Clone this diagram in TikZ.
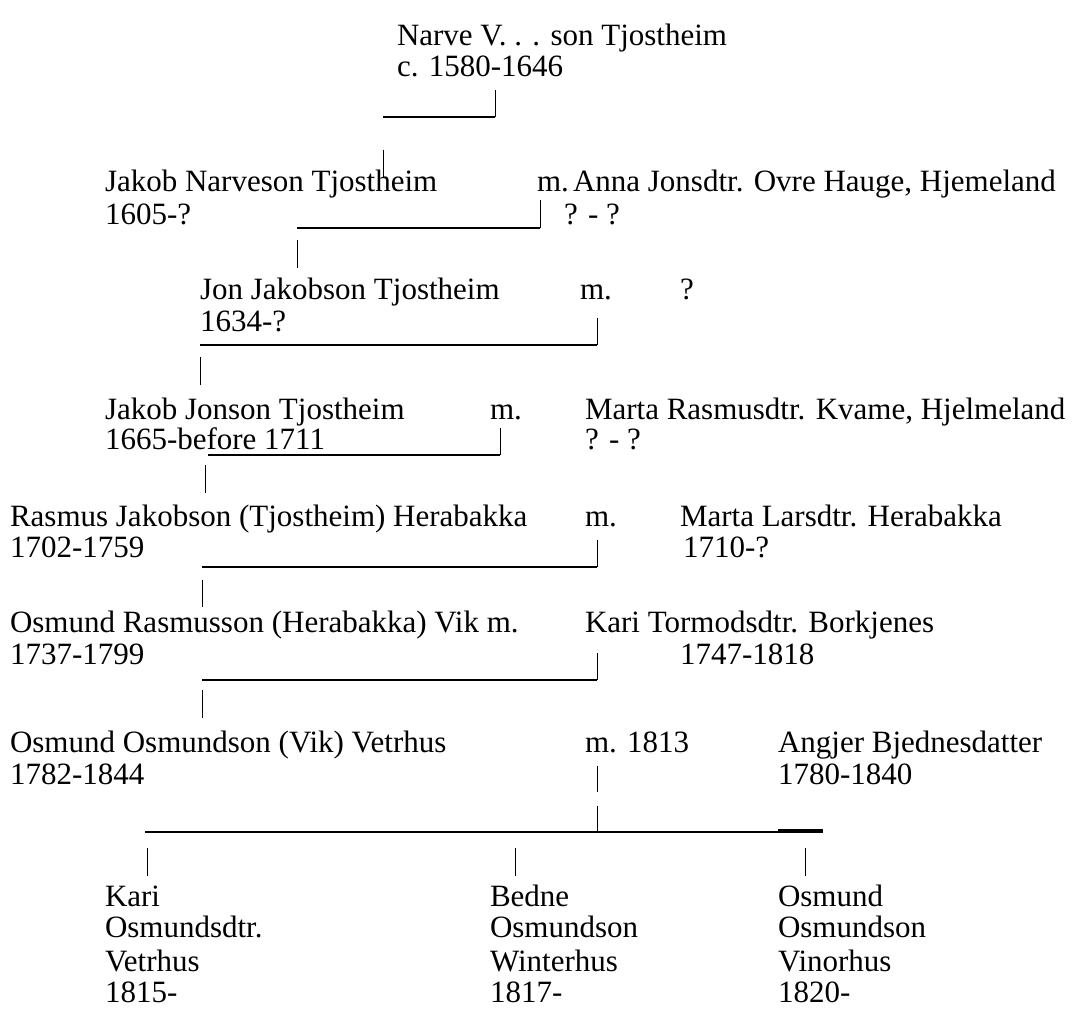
\documentclass[tikz,border=0pt]{standalone}
\usepackage{fontspec}
\setmainfont{Liberation Serif}
\begin{document}
\begin{tikzpicture}[x=1pt,y=-1pt,
  txt/.style={anchor=base west,inner sep=0pt,outer sep=0pt,font=\fontsize{31}{33}\selectfont},
  hline/.style={line width=1.8pt},
  vbar/.style={line width=0.9pt}]
\useasboundingbox (0,0) rectangle (1073,1019);
% generation 1
\node[txt] (narve) at (397,46) {Narve V. . . son Tjostheim};
\node[txt] (narved) at (397,77) {c. 1580-1646};
\coordinate (l1a) at (383,117); \coordinate (l1b) at (495,117);
\coordinate (b1t) at (495,90);
\draw[hline] (l1a) -- (l1b);
\draw[vbar] (b1t) -- (l1b);
\coordinate (b2t) at (383,150); \coordinate (b2b) at (383,177);
\draw[vbar] (b2t) -- (b2b);
% generation 2
\node[txt] (jakobn) at (105,192) {Jakob Narveson Tjostheim};
\node[txt] (m2) at (537,192) {m.};
\node[txt] (anna) at (573,192) {Anna Jonsdtr. Ovre Hauge, Hjemeland};
\node[txt] (jakobnd) at (105,224) {1605-?};
\node[txt] (annad) at (564,224) {? - ?};
\coordinate (l2a) at (297,228); \coordinate (l2b) at (540,228);
\coordinate (b3t) at (540,200);
\draw[hline] (l2a) -- (l2b);
\draw[vbar] (b3t) -- (l2b);
\coordinate (b4t) at (297,240); \coordinate (b4b) at (297,268);
\draw[vbar] (b4t) -- (b4b);
% generation 3
\node[txt] (jon) at (200,299) {Jon Jakobson Tjostheim};
\node[txt] (m3) at (580,299) {m.};
\node[txt] (jonw) at (680,299) {?};
\node[txt] (jond) at (200,331) {1634-?};
\coordinate (l3a) at (200,345); \coordinate (l3b) at (597,345);
\coordinate (b5t) at (597,318);
\draw[hline] (l3a) -- (l3b);
\draw[vbar] (b5t) -- (l3b);
\coordinate (b6t) at (200,357); \coordinate (b6b) at (200,385);
\draw[vbar] (b6t) -- (b6b);
% generation 4
\node[txt] (jakobj) at (105,419) {Jakob Jonson Tjostheim};
\node[txt] (m4) at (490,419) {m.};
\node[txt] (martar) at (585,419) {Marta Rasmusdtr. Kvame, Hjelmeland};
\node[txt] (jakobjd) at (105,449) {1665-before 1711};
\node[txt] (martard) at (585,449) {? - ?};
\coordinate (l4a) at (208,455); \coordinate (l4b) at (500,455);
\coordinate (b7t) at (500,428);
\draw[hline] (l4a) -- (l4b);
\draw[vbar] (b7t) -- (l4b);
\coordinate (b8t) at (205,465); \coordinate (b8b) at (205,493);
\draw[vbar] (b8t) -- (b8b);
% generation 5
\node[txt] (rasmus) at (10,526) {Rasmus Jakobson (Tjostheim) Herabakka};
\node[txt] (m5) at (585,526) {m.};
\node[txt] (martal) at (680,526) {Marta Larsdtr. Herabakka};
\node[txt] (rasmusd) at (10,557) {1702-1759};
\node[txt] (martald) at (683,557) {1710-?};
\coordinate (l5a) at (202,567); \coordinate (l5b) at (597,567);
\coordinate (b9t) at (597,540);
\draw[hline] (l5a) -- (l5b);
\draw[vbar] (b9t) -- (l5b);
\coordinate (b10t) at (202,580); \coordinate (b10b) at (202,607);
\draw[vbar] (b10t) -- (b10b);
% generation 6
\node[txt] (osmr) at (10,632) {Osmund Rasmusson (Herabakka) Vik m.};
\node[txt] (karit) at (585,632) {Kari Tormodsdtr. Borkjenes};
\node[txt] (osmrd) at (10,664) {1737-1799};
\node[txt] (karitd) at (680,664) {1747-1818};
\coordinate (l6a) at (202,680); \coordinate (l6b) at (597,680);
\coordinate (b11t) at (597,653);
\draw[hline] (l6a) -- (l6b);
\draw[vbar] (b11t) -- (l6b);
\coordinate (b12t) at (202,690); \coordinate (b12b) at (202,718);
\draw[vbar] (b12t) -- (b12b);
% generation 7
\node[txt] (osmo) at (10,752) {Osmund Osmundson (Vik) Vetrhus};
\node[txt] (m7) at (585,752) {m. 1813};
\node[txt] (angjer) at (778,752) {Angjer Bjednesdatter};
\node[txt] (osmod) at (10,784) {1782-1844};
\node[txt] (angjerd) at (778,784) {1780-1840};
\coordinate (b13t) at (597,766); \coordinate (b13b) at (597,792);
\draw[vbar] (b13t) -- (b13b);
\coordinate (b14t) at (597,806); \coordinate (l7m) at (597,832);
\draw[vbar] (b14t) -- (l7m);
\coordinate (l7a) at (145,832); \coordinate (l7b) at (823,832);
\draw[hline] (l7a) -- (l7b);
\coordinate (u7a) at (778,830); \coordinate (u7b) at (823,830);
\draw[line width=2.5pt] (u7a) -- (u7b);
\coordinate (c1t) at (147,848); \coordinate (c1b) at (147,876);
\coordinate (c2t) at (515,848); \coordinate (c2b) at (515,876);
\coordinate (c3t) at (805,848); \coordinate (c3b) at (805,876);
\draw[vbar] (c1t) -- (c1b);
\draw[vbar] (c2t) -- (c2b);
\draw[vbar] (c3t) -- (c3b);
% children
\node[txt] (k1) at (105,906) {Kari};
\node[txt] (k2) at (105,937) {Osmundsdtr.};
\node[txt] (k3) at (105,971) {Vetrhus};
\node[txt] (k4) at (105,1002) {1815-};
\node[txt] (bd1) at (490,906) {Bedne};
\node[txt] (bd2) at (490,937) {Osmundson};
\node[txt] (bd3) at (490,971) {Winterhus};
\node[txt] (bd4) at (490,1002) {1817-};
\node[txt] (os1) at (778,906) {Osmund};
\node[txt] (os2) at (778,937) {Osmundson};
\node[txt] (os3) at (778,971) {Vinorhus};
\node[txt] (os4) at (778,1002) {1820-};
\end{tikzpicture}
\end{document}
